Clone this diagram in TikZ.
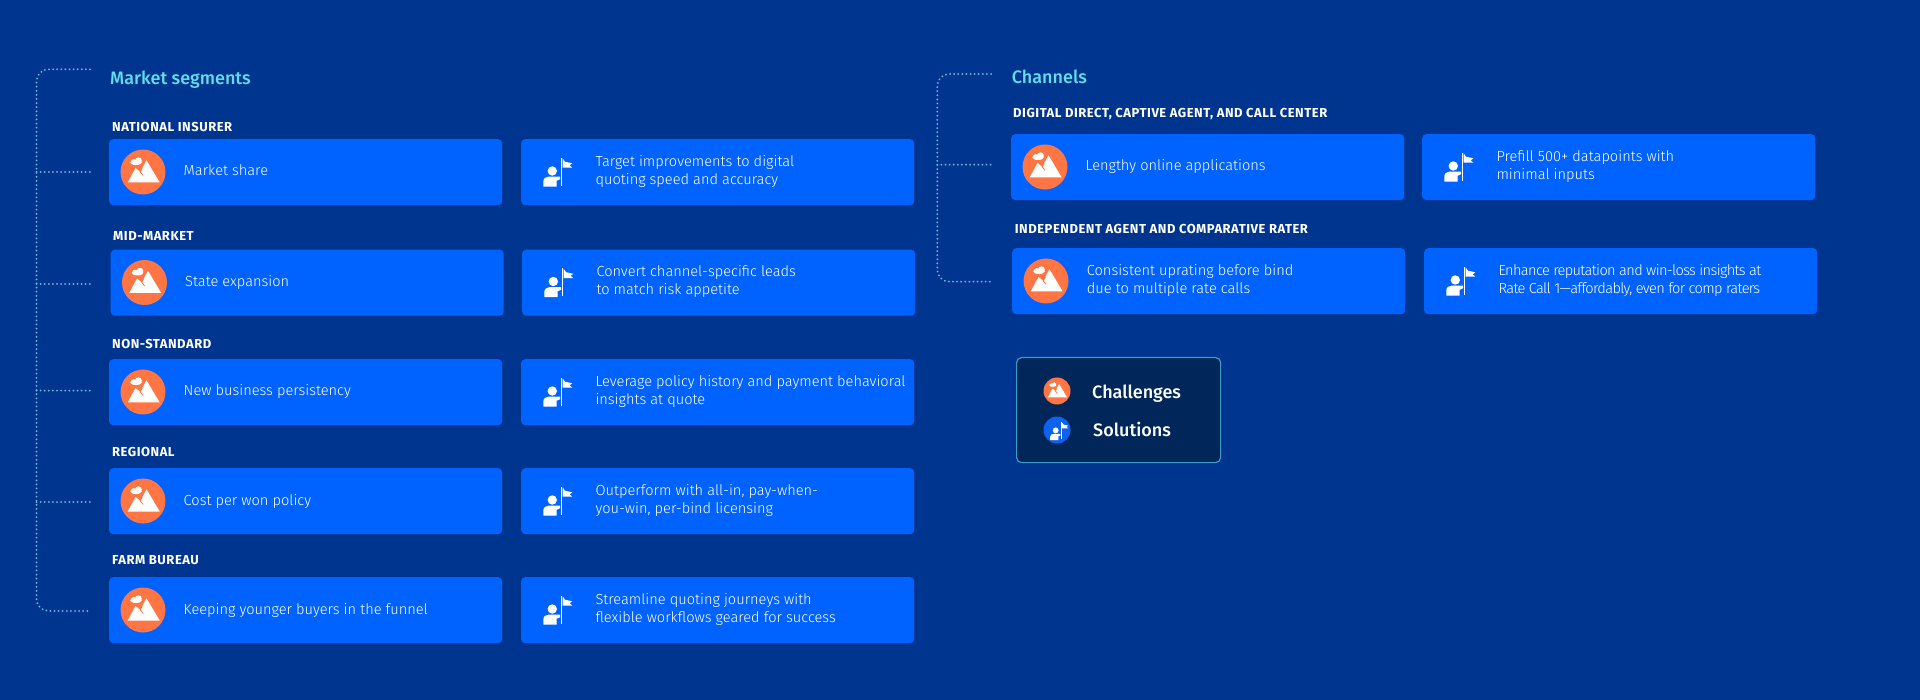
\documentclass[tikz,border=0pt]{standalone}
\usepackage{fontspec}
\setmainfont{Fira Sans Light}
\newfontfamily\tightf[LetterSpace=-4.4]{Fira Sans Light}
\newfontfamily\headf{Fira Sans Medium}
\newfontfamily\capsf[LetterSpace=4]{Fira Sans Bold}
\definecolor{bgc}{HTML}{00358F}
\definecolor{boxc}{HTML}{0062FF}
\definecolor{orangec}{HTML}{FF7644}
\definecolor{headc}{HTML}{62DDEE}
\definecolor{dotc}{HTML}{62C4E0}
\definecolor{legc}{HTML}{00265A}
\definecolor{legb}{HTML}{3C9CC8}
\definecolor{solc}{HTML}{0F62EE}
\tikzset{
  x=1pt,y=-1pt,
  card/.style={fill=boxc,rounded corners=4pt,anchor=north west,minimum width=393pt,minimum height=66pt,inner sep=0pt},
  body/.style={text=white,anchor=west,align=left,inner sep=0pt,font=\fontsize{14.6}{18}\selectfont},
  bodyone/.style={body,text height=11pt,text depth=3pt},
  tight/.style={body,font=\fontsize{14.6}{18}\selectfont\tightf},
  capt/.style={text=white,anchor=west,inner sep=0pt,text height=9.3pt,text depth=0pt,font=\fontsize{13}{15}\selectfont\capsf},
  head/.style={text=headc,anchor=west,inner sep=0pt,text height=13pt,text depth=4pt,font=\fontsize{18}{22}\selectfont\headf},
  legt/.style={head,text=white},
  dots/.style={draw=dotc,line width=2pt,line cap=round,dash pattern=on 0pt off 4.1pt},
  pics/mtn/.style={code={
    \fill[orangec] (0,0) circle[radius=22.5];
    \fill[white] (-15.3,10.5) -- (-7.5,-4) -- (-2.7,0) -- (-0.7,-4) -- (3.5,-11.7) -- (16.7,10.5) -- cycle;
    \draw[orangec,line width=.8pt] (-0.7,-4) -- (-2.7,0) -- (0,3.3);
    \fill[white] (-7,-9.8) ellipse[x radius=5.8,y radius=2.8];
    \fill[white] (-4.5,-11.4) circle[radius=3.3];
    \fill[white] (-9.5,-10.3) circle[radius=2.5];
  }},
  pics/flagman/.style={code={
    \fill[white] (-5.3,-1) circle[radius=4.7];
    \fill[white] (-14.3,14.7) -- (-14.3,9.7) .. controls (-14.3,6.5) and (-12,4.7) .. (-9.3,4.7) -- (2.4,4.7) -- (2.4,7.3) -- (-0.9,8.7) -- (-0.9,14.7) -- cycle;
    \fill[white] (3.5,-14.3) rectangle (4.8,13.7);
    \fill[white] (5,-13.7) -- (7.4,-10.3) -- (14.7,-8.7) -- (12.1,-6.7) -- (14.7,-4.3) -- (5,-4.3) -- cycle;
  }},
}
\newcommand{\segrow}[8]{%
  \node[card] (#1c) at (#2,#3) {};
  \node[card] (#1s) at (#4,#5) {};
  \pic at (#2+34,#3+33) {mtn};
  \pic at (#4+36.6,#5+33) {flagman};
  \node[bodyone] (#1ct) at (#2+#8,#3+33) {#6};
  \node[body] (#1st) at (#4+74.3,#5+32.5) {#7};
}
\begin{document}
\begin{tikzpicture}
\fill[bgc] (0,0) rectangle (1920,700);
\useasboundingbox (0,0) rectangle (1920,700);

% Market segments
\node[head] (mh) at (110,79.8) {Market segments};
\node[capt] (l1) at (112,127) {NATIONAL INSURER};
\node[capt] (l2) at (113,235.7) {MID-MARKET};
\node[capt] (l3) at (112,344) {NON-STANDARD};
\node[capt] (l4) at (112,451.7) {REGIONAL};
\node[capt] (l5) at (112,559.7) {FARM BUREAU};
\segrow{a}{109}{139}{521}{139}{Market share}{Target improvements to digital\\quoting speed and accuracy}{74.5}
\segrow{b}{110.5}{249.5}{522}{249.5}{State expansion}{Convert channel-specific leads\\to match risk appetite}{74.5}
\segrow{c}{109}{359}{521}{359}{New business persistency}{Leverage policy history and payment behavioral\\insights at quote}{74.5}
\segrow{d}{109}{468}{521}{468}{Cost per won policy}{Outperform with all-in, pay-when-\\you-win, per-bind licensing}{74.5}
\segrow{e}{109}{577}{521}{577}{Keeping younger buyers in the funnel}{Streamline quoting journeys with\\flexible workflows geared for success}{74.5}

% Channels
\node[head] (ch) at (1011.7,79.5) {Channels};
\node[capt] (l6) at (1013,113) {DIGITAL DIRECT, CAPTIVE AGENT, AND CALL CENTER};
\node[capt] (l7) at (1014.7,228.7) {INDEPENDENT AGENT AND COMPARATIVE RATER};
\segrow{f}{1011}{134}{1422}{134}{Lengthy online applications}{Prefill 500+ datapoints with\\minimal inputs}{74.5}
\node[card] (gc) at (1012,248) {};
\node[card] (gs) at (1424,248) {};
\pic at (1046,281) {mtn};
\pic at (1460.6,281) {flagman};
\node[body] (gct) at (1086.7,281) {Consistent uprating before bind\\due to multiple rate calls};
\node[tight] (gst) at (1498.3,281) {Enhance reputation and win-loss insights at\\Rate Call 1—affordably, even for comp raters};

% Legend
\node[fill=legc,draw=legb,line width=1.2pt,rounded corners=5pt,anchor=north west,minimum width=204pt,minimum height=105pt,inner sep=0pt] (leg) at (1016,357) {};
\pic[scale=.6] at (1057,391) {mtn};
\fill[solc] (1057,430) circle[radius=13.5];
\pic[scale=.62] at (1059,431) {flagman};
\node[legt] (lc) at (1092,393.8) {Challenges};
\node[legt] (ls) at (1093,431.5) {Solutions};

% Brackets
\coordinate (sT) at (90,69.3);
\coordinate (sB) at (90,611);
\coordinate (sC) at (36.5,69.3);
\coordinate (sD) at (36.5,611);
\draw[dots,rounded corners=12pt] (sT) -- (sC) -- (sD) -- (sB);
\foreach \n/\yy in {1/172,2/284,3/390.6,4/502}{
  \coordinate (sb\n) at (36.5,\yy);
  \coordinate (se\n) at (91,\yy);
  \draw[dots] (sb\n) -- (se\n);
}
\coordinate (cT) at (991,74);
\coordinate (cB) at (991,281.7);
\coordinate (cC) at (937.3,74);
\coordinate (cD) at (937.3,281.7);
\draw[dots,rounded corners=12pt] (cT) -- (cC) -- (cD) -- (cB);
\coordinate (cb1) at (937.3,164.7);
\coordinate (ce1) at (991,164.7);
\draw[dots] (cb1) -- (ce1);
\end{tikzpicture}
\end{document}
